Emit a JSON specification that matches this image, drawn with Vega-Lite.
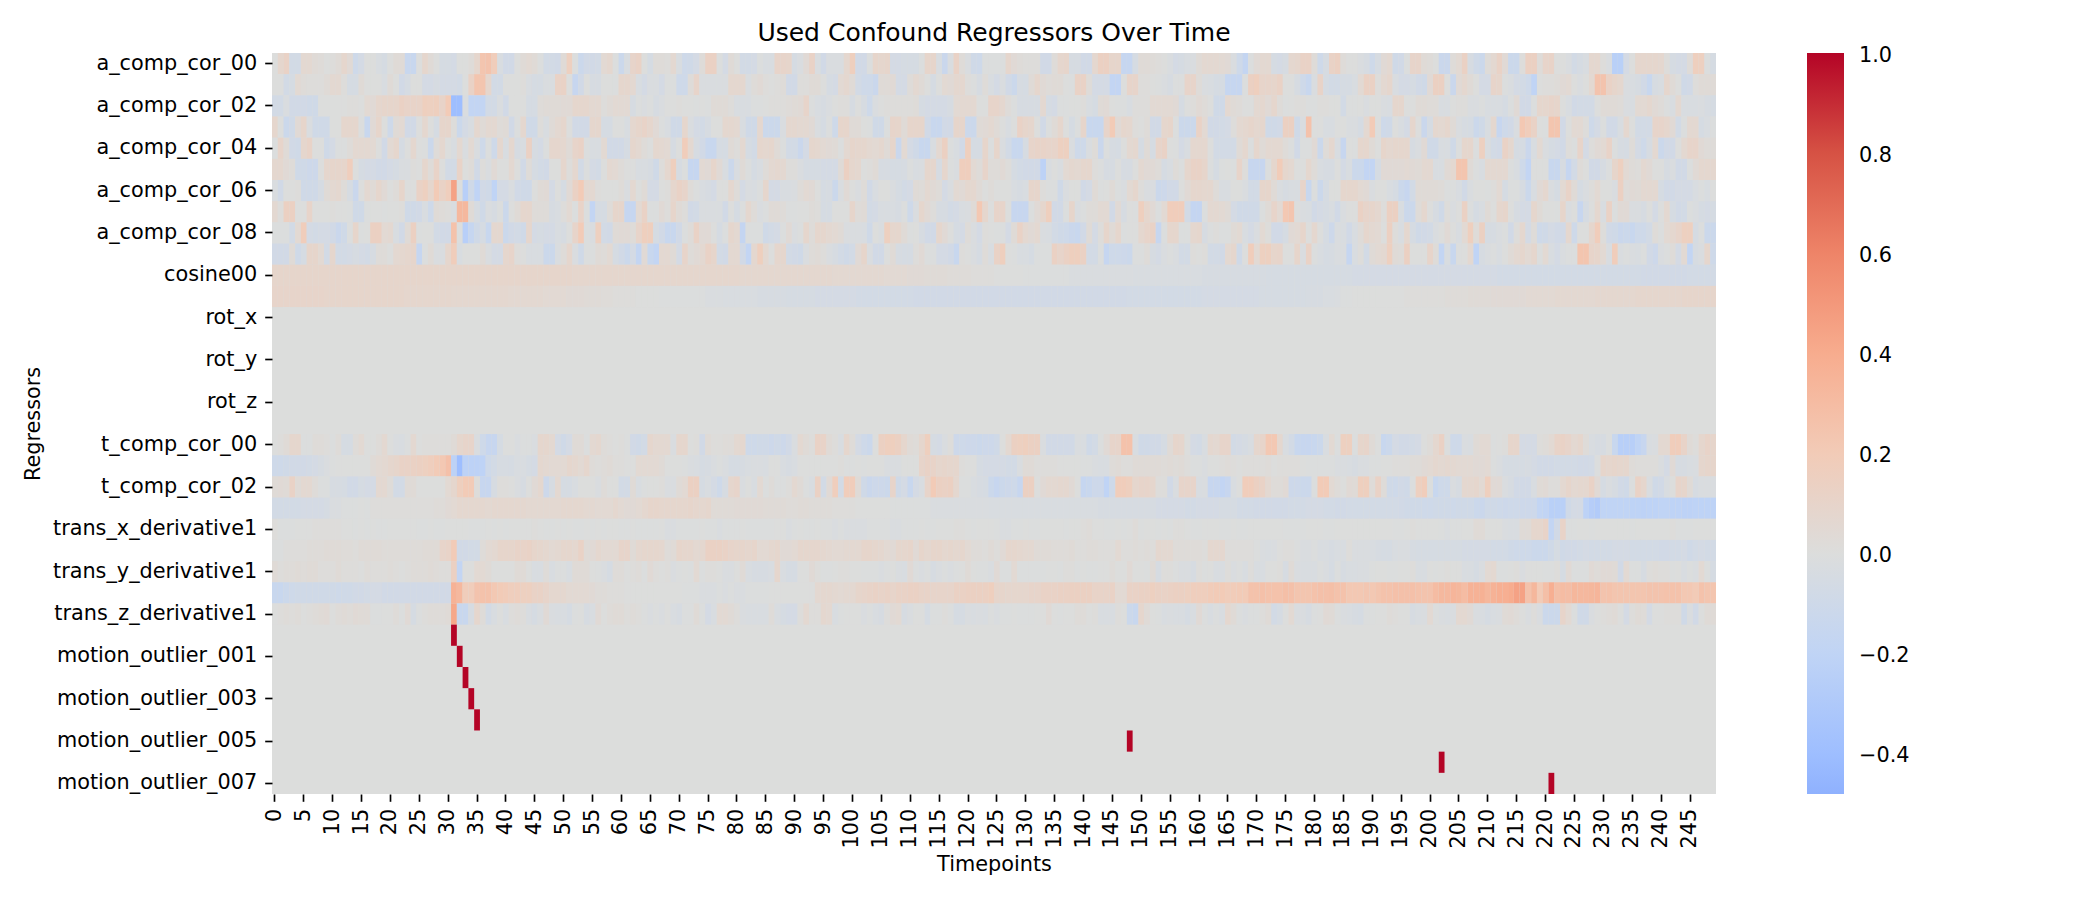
{"$schema":"https://vega.github.io/schema/vega-lite/v6.json","width":1444,"height":741,"autosize":{"type":"none"},"padding":{"left":272,"top":53,"right":384,"bottom":106},"background":"white","view":{"fill":"#dcdddc","stroke":null},"title":{"text":"Used Confound Regressors Over Time","font":"DejaVu Sans","fontSize":25,"fontWeight":"normal","color":"black","offset":6},"config":{"font":"DejaVu Sans"},"encoding":{"x":{"field":"t","type":"ordinal","title":"Timepoints","scale":{"paddingInner":0,"paddingOuter":0},"axis":{"values":[1,6,11,16,21,26,31,36,41,46,51,56,61,66,71,76,81,86,91,96,101,106,111,116,121,126,131,136,141,146,151,156,161,166,171,176,181,186,191,196,201,206,211,216,221,226,231,236,241,246],"labelExpr":"datum.value-1","labelAngle":270,"labelFontSize":20.8,"labelFont":"DejaVu Sans","labelColor":"black","labelPadding":7,"labelOverlap":false,"tickSize":7.3,"tickWidth":1.67,"tickColor":"black","domain":false,"grid":false,"titleFontSize":20.8,"titleFont":"DejaVu Sans","titleFontWeight":"normal","titleColor":"black","titlePadding":7}},"y":{"field":"r","type":"nominal","title":"Regressors","scale":{"paddingInner":0,"paddingOuter":0,"domain":["a_comp_cor_00","a_comp_cor_01","a_comp_cor_02","a_comp_cor_03","a_comp_cor_04","a_comp_cor_05","a_comp_cor_06","a_comp_cor_07","a_comp_cor_08","a_comp_cor_09","cosine00","cosine01","rot_x","rot_x_derivative1","rot_y","rot_y_derivative1","rot_z","rot_z_derivative1","t_comp_cor_00","t_comp_cor_01","t_comp_cor_02","trans_x","trans_x_derivative1","trans_y","trans_y_derivative1","trans_z","trans_z_derivative1","motion_outlier_000","motion_outlier_001","motion_outlier_002","motion_outlier_003","motion_outlier_004","motion_outlier_005","motion_outlier_006","motion_outlier_007"]},"axis":{"values":["a_comp_cor_00","a_comp_cor_02","a_comp_cor_04","a_comp_cor_06","a_comp_cor_08","cosine00","rot_x","rot_y","rot_z","t_comp_cor_00","t_comp_cor_02","trans_x_derivative1","trans_y_derivative1","trans_z_derivative1","motion_outlier_001","motion_outlier_003","motion_outlier_005","motion_outlier_007"],"labelFontSize":20.8,"labelFont":"DejaVu Sans","labelColor":"black","labelPadding":8,"labelOverlap":false,"labelLimit":400,"tickSize":7.3,"tickWidth":1.67,"tickColor":"black","domain":false,"grid":false,"titleFontSize":20.8,"titleFont":"DejaVu Sans","titleFontWeight":"normal","titleColor":"black","titlePadding":29}},"color":{"field":"v","type":"quantitative","scale":{"domain":[-48,-40,-20,0,20,40,60,80,100],"range":["#8fb1fe","#9ebeff","#c0d4f5","#dcdddc","#f2cbb7","#f7ac8e","#ee8468","#d65244","#b40426"],"interpolate":"rgb","clamp":true},"legend":{"orient":"none","legendX":1535,"legendY":0,"title":null,"gradientLength":741,"gradientThickness":37,"values":[-40,-20,0,20,40,60,80,100],"labelExpr":"replace(format(datum.value/100,'.1f'),'-','−')","labelFontSize":20.8,"labelFont":"DejaVu Sans","labelColor":"black","labelOffset":15,"encode":{"labels":{"update":{"baseline":{"value":"middle"},"dy":{"value":2.5}}}}}}},"layer":[{"data":{"name":"dense","values":[
{"r":"a_comp_cor_00","v":[0,8,12,-7,-7,6,6,3,2,0,1,3,8,4,-10,-6,0,0,-3,-5,0,3,3,-14,-14,0,8,3,0,-5,-5,-6,0,0,2,8,24,25,18,-3,-8,-8,0,3,5,3,-1,-7,-7,-8,3,15,-1,-12,-8,-8,-7,5,7,-1,-12,-3,10,
12,0,-5,2,2,1,6,-3,-10,-9,-6,2,13,13,-1,-6,3,0,-7,-7,-6,-1,-3,-3,10,10,9,-5,-2,4,12,-2,-8,-2,-2,-2,7,16,-8,-8,-1,9,8,9,-6,-6,-5,-5,-5,-1,9,9,-3,-13,-2,12,2,-2,-9,-10,-1,-1,-1,-1,
8,4,2,1,1,1,-8,-8,2,8,9,-4,-4,-8,-8,7,14,14,9,9,-16,-16,-5,3,3,2,1,0,-2,-6,-5,-3,-2,3,6,6,6,5,4,-2,-10,-17,-1,4,6,6,-5,-6,-4,7,8,12,12,2,-10,-4,12,14,2,0,0,-2,
-4,-10,-4,4,6,-9,-8,-1,10,10,3,2,0,-13,-13,2,5,13,-4,-9,-12,2,6,12,4,-12,-12,1,14,14,2,10,11,0,0,-2,-7,-5,-3,7,7,1,-2,-24,-24,-6,0,8,8,8,8,7,1,-5,-6,-6,2,16,15,-1,-5,-2,-2,-2,-2,-2,-2,-2]},
{"r":"a_comp_cor_01","v":[0,0,-7,-5,5,2,1,1,1,3,6,6,1,-5,-5,3,0,0,0,-3,3,0,-8,-5,0,0,-6,-6,-4,-6,-6,-6,-7,0,12,24,24,8,-7,-7,0,0,0,1,-3,-5,-5,-2,-2,12,12,0,-15,-8,0,-4,-4,0,0,-1,8,8,6,
-3,-6,-2,-2,-6,-1,-1,-10,-10,2,10,-2,-2,-2,-2,-2,7,7,7,-2,2,4,1,0,1,2,-8,-8,1,1,3,3,0,-5,-6,5,7,3,-7,-10,-10,-13,3,3,4,-6,-6,2,6,3,0,-5,0,5,4,7,7,1,-1,-4,2,-3,-6,
-2,-8,-12,-4,-5,3,8,4,2,3,3,0,-1,12,12,2,-6,-6,-6,-18,-18,0,10,10,1,1,0,-1,-2,-4,-1,-1,10,10,2,-2,-3,-5,-5,-16,-16,-16,-1,14,16,10,10,9,12,0,0,-4,-10,-14,-2,11,-5,-7,-7,-5,-5,
-3,5,13,13,1,6,8,-3,-6,-6,-5,-8,-9,4,14,14,0,-13,4,7,3,0,-6,-6,10,9,-1,-2,-6,-7,-10,-20,0,1,1,2,4,5,0,-2,0,6,25,25,12,9,7,-2,-3,-4,-8,-14,-4,-3,8,3,0,-9,-8,1,3,3,3,3,3,3,3]},
{"r":"a_comp_cor_02","v":[-7,-7,-2,-8,-8,-8,-9,-9,0,0,0,0,0,1,1,0,5,4,8,9,9,9,13,11,11,11,16,15,16,11,20,-40,-40,-2,-18,-18,-18,-7,-7,-2,-8,0,0,0,-5,-5,2,3,3,3,4,4,8,8,8,6,6,1,3,5,5,5,-4,
-1,-2,-1,-4,-2,0,0,1,0,0,-1,0,-1,3,3,3,1,-3,-3,-3,-1,-1,0,1,1,1,2,3,4,10,-1,-3,-4,-2,0,1,1,-4,0,-4,-10,-2,0,1,1,1,1,1,2,-5,-6,-6,-6,-6,-4,5,6,6,6,0,0,10,10,7,
2,-1,-4,-4,-4,-4,6,-5,-6,-1,-1,0,0,1,-3,-5,3,4,0,-1,-1,-3,1,1,1,5,5,5,5,4,-5,0,1,4,2,0,-9,-9,6,3,2,0,0,6,7,4,8,2,-1,0,1,1,-1,-1,1,1,0,0,-7,-1,-1,0,-2,
0,0,-2,-3,8,8,0,0,3,3,2,2,-3,-3,0,1,1,-2,-2,-1,-3,-3,-3,-5,-1,4,-8,-8,-1,8,8,10,9,0,-3,-8,-7,-7,-7,0,3,3,3,2,-2,-3,5,5,7,4,2,-1,-3,6,-3,-3,-3,-2,-4,-5,-4,-2,-2,-2,-2,-2,-2,-2]},
{"r":"a_comp_cor_03","v":[8,0,-12,-9,4,9,-2,-9,-9,-9,0,0,8,8,8,-1,-14,4,9,0,-10,3,5,-8,-8,0,7,0,-5,9,9,1,-12,-6,-3,7,3,6,6,2,3,-8,-1,7,-9,-9,1,-3,3,6,8,0,-8,-8,-8,8,8,-5,-5,0,0,-3,7,
9,11,8,4,-1,-3,-9,-9,8,-2,-6,-7,-4,0,0,7,7,6,-3,-9,-9,7,-12,-12,-12,-2,7,7,6,6,4,-2,-5,-1,-10,9,9,3,3,0,-1,-9,-9,-1,10,9,3,9,9,9,-8,-14,-14,-8,-8,9,9,-12,-12,3,4,6,3,0,
-3,0,12,9,8,0,-8,-1,3,8,0,-5,-1,9,-14,-14,-14,10,20,4,8,7,1,0,2,-8,-8,8,9,-1,-12,-12,-12,12,5,-8,-8,-7,-6,1,6,7,9,7,8,-9,-9,-8,14,14,-9,-2,26,0,0,-3,-3,0,0,-2,-2,
-5,6,20,0,-10,-9,0,-3,-6,8,0,-13,-5,7,6,8,3,-2,-4,-5,-12,-9,-3,7,-15,-10,-8,-2,22,18,12,0,-1,24,24,-8,0,5,5,1,-10,-6,-1,-8,-8,-3,7,0,-7,-7,-7,10,10,8,4,-7,-1,6,6,-5,-3,-1,-1,-1,-1,-1,-1,-1]},
{"r":"a_comp_cor_04","v":[-1,10,3,-8,-9,8,11,0,0,-9,-6,-1,-1,2,6,6,6,5,0,-8,5,8,-5,0,7,0,-1,-12,2,7,0,-3,6,-2,5,-2,-10,-1,-10,7,-3,7,-4,-3,13,-4,-6,-1,8,8,7,3,10,12,-1,-3,-3,5,-8,-8,-8,-5,8,
6,2,0,7,6,5,-4,0,18,6,-4,-8,-14,-14,-5,-5,3,1,6,-5,-7,8,7,8,3,-1,-7,-7,-13,-6,8,7,5,4,3,-1,6,9,8,8,6,5,7,3,9,-13,5,-6,-9,-14,-14,-3,6,14,-1,-3,-8,16,-5,-5,9,
-1,9,-2,-7,-14,-14,-4,10,11,11,10,10,15,15,-2,-10,-10,-2,2,-13,-1,-4,-5,0,6,7,-5,3,-5,10,12,0,-1,-6,-3,7,7,7,0,-7,-7,-7,-7,3,7,-1,8,3,6,6,6,2,-1,-8,-1,-1,4,-12,2,7,-3,-15,0,
-1,8,8,3,0,9,7,8,8,8,-4,-2,4,-9,-9,-3,-3,-9,-1,8,8,-1,15,-2,-7,-8,12,7,-5,-5,-13,-3,5,-2,-5,-6,-8,1,-1,10,-6,1,4,5,11,-1,-4,-5,2,-6,-10,-4,6,-12,-8,-8,0,6,10,10,4,2,2,2,2,2,2,2]},
{"r":"a_comp_cor_05","v":[7,7,4,2,-9,-9,-11,-11,0,8,9,9,9,17,0,-5,-6,-6,-8,-8,-6,-5,-2,-2,1,0,8,2,11,0,-7,-7,11,0,2,-8,1,-2,4,0,0,6,0,-8,2,-5,-7,-8,0,0,8,1,7,-7,-1,-6,-7,0,6,5,2,0,0,
-3,-3,-4,-9,1,7,16,-4,-1,-16,-16,5,4,9,4,-3,-12,-3,3,-1,-5,-3,2,6,7,6,1,1,-2,-5,-5,-5,-6,-6,-6,3,14,8,7,0,1,3,-4,-4,-5,-5,-4,-1,-3,-2,8,8,-4,8,-1,-2,17,17,5,2,10,2,2,
4,1,-5,-7,-8,-8,-8,-22,-3,0,-2,5,7,6,8,8,1,-1,-4,-4,0,-4,-4,0,6,4,4,2,-5,-3,2,-1,8,12,12,9,-1,-5,-1,0,-1,10,1,-15,-15,-15,-1,8,19,8,6,0,0,7,2,-3,-4,-4,0,-6,-3,-12,-12,
-18,-18,-5,4,4,4,4,5,4,3,6,6,-3,-3,4,6,24,24,3,-1,-3,6,6,6,6,-1,-3,-10,-18,0,0,0,-14,-14,-4,-16,-7,2,0,-8,-8,-4,-1,9,15,5,2,1,6,4,0,0,-4,-2,-8,-8,-1,4,7,7,7,6,6,6,6,6,6,6]},
{"r":"a_comp_cor_06","v":[-2,-8,0,0,1,-9,-9,-9,-5,3,6,7,2,-4,-13,0,6,3,8,4,0,2,9,0,0,12,15,8,20,12,17,45,0,-25,-9,-20,-8,-9,-20,-6,-6,-2,-8,-9,-9,0,3,4,-6,0,-5,4,13,20,6,6,1,0,0,0,2,-2,6,
0,3,-6,-6,0,1,8,12,10,2,-1,-3,-4,-6,0,0,7,2,-6,-2,-3,-1,8,-6,-6,-3,-3,-2,2,5,4,0,-5,-4,-12,-2,4,0,-2,2,-8,-3,0,0,-2,-5,-7,-6,3,2,6,4,2,-6,-2,5,4,7,7,3,0,2,0,0,
0,-3,-4,-3,9,9,1,-1,-1,-9,-2,0,0,-8,-6,3,-1,0,3,-1,-2,5,8,1,-2,-2,-12,-11,-8,-8,0,4,8,8,7,7,2,-3,-3,0,0,-2,-7,-7,9,9,3,-2,-4,-3,-3,10,-14,-1,-12,-5,0,0,8,8,8,5,4,
-2,0,0,-3,-5,-12,-15,-7,3,3,3,3,2,-1,-1,-3,-8,-2,0,0,-1,1,5,-5,-1,-1,-4,-12,-3,4,7,-2,-5,5,11,3,-5,-2,1,5,0,0,-2,14,2,4,3,6,6,6,-5,-8,-8,-6,-6,-6,-3,-1,-3,0,-2,-10,-10,-10,-10,-10,-10,-10]},
{"r":"a_comp_cor_07","v":[6,1,14,14,0,0,10,0,0,0,1,0,0,-1,-9,-9,-1,0,0,-1,0,0,1,-9,-9,-8,-3,-10,3,2,1,-2,32,32,3,-4,-9,-2,-4,-1,-12,0,3,8,8,2,2,2,-4,-3,1,5,-1,11,-1,-18,-5,-5,2,9,9,-16,-16,
5,12,-1,-1,4,1,9,3,1,-8,-7,-2,-2,-2,-2,-8,0,-5,-1,7,2,-2,-1,3,3,2,-1,-1,0,0,2,1,-5,-5,0,0,0,9,2,3,-7,-6,-3,-3,-3,-4,-1,-10,-2,8,4,1,-4,-4,-7,-6,-3,-2,3,22,8,0,10,10,
0,-15,-15,-15,-1,4,8,16,-8,-8,-1,9,-2,-1,2,2,5,5,-8,4,-4,0,-1,16,8,4,-1,5,18,18,18,-7,-17,-17,-1,6,6,5,3,-6,-9,-9,-9,-9,-1,3,10,5,22,24,0,-2,-3,-8,-6,-5,-3,-8,-2,0,0,13,
10,9,7,1,14,14,-3,-12,-12,2,7,0,-4,-9,1,-2,0,13,-1,-5,-3,3,0,8,9,0,-4,-6,-6,8,3,0,0,-1,9,-2,0,-15,-5,0,7,-3,12,-1,4,4,-2,-2,-4,0,-6,0,6,-5,-8,-7,-1,-2,-5,-6,-5,-5,-5,-5,-5,-5,-5,-5]},
{"r":"a_comp_cor_08","v":[-1,-1,-1,-7,5,18,-6,-7,-6,-6,-8,-13,-9,-1,9,-1,0,14,14,5,6,-3,-8,3,14,-1,0,0,-7,-8,-8,26,-1,-25,-16,-9,-5,-14,7,7,-12,-8,-7,-9,8,-6,-5,-6,-6,-3,-4,0,10,20,-1,-2,15,-7,-8,3,4,4,2,
10,16,16,-5,-8,-14,-14,-8,-1,2,12,4,4,0,-5,-1,8,6,-17,-1,-1,-1,-9,-7,-6,-1,4,-2,-1,8,2,8,8,6,5,3,-2,-2,-2,-3,-9,0,-2,15,8,8,3,-1,0,-4,-8,-8,8,4,0,-5,-6,2,-2,-6,1,0,-1,-1,
-6,3,12,6,4,6,-2,-3,-7,-9,-10,-13,-14,-8,3,-6,1,9,3,8,-1,0,0,7,10,12,-15,-1,8,8,-1,-1,7,8,-4,-1,1,-1,-1,3,5,-3,-6,-2,5,1,-8,-8,-5,4,5,9,0,7,0,-5,-11,-2,-3,-8,-3,2,8,
6,5,0,14,1,-3,7,-5,-9,-8,-7,-2,0,4,0,-3,5,16,2,14,-5,-4,-2,-1,-8,1,7,-6,2,-10,-9,-6,-8,-8,7,-10,0,0,8,18,1,-8,-9,-13,-12,-14,-10,-10,-7,2,-1,5,7,10,15,15,-5,-1,-12,-12,-3,-8,-8,-8,-8,-8,-8,-8]},
{"r":"a_comp_cor_09","v":[-8,-8,-8,3,-9,-5,9,9,5,-7,8,-7,-7,-6,-4,-6,-7,-4,2,2,0,6,7,8,9,-16,-1,3,-2,-2,8,18,-3,0,0,0,3,-2,-6,-6,8,10,1,0,-3,-3,-3,-12,-12,-2,2,8,-2,-9,-1,-1,3,2,5,-5,-8,-12,-6,
-17,4,-14,-18,6,6,3,-6,10,2,4,6,12,9,-7,-8,6,6,-8,-18,7,16,6,0,8,8,-7,-8,-9,-2,2,3,1,-2,-4,-7,-9,-7,4,9,-2,-8,-8,0,3,-4,-5,-5,1,4,-1,-1,-6,-6,-8,-14,1,0,-2,-5,2,-3,
12,16,0,-1,-3,-3,-5,-1,-1,-1,13,10,13,16,16,13,-7,-7,-1,-16,-10,-10,-11,-12,-1,-1,2,-4,-6,-2,-1,-2,-7,-7,1,0,1,-7,-7,-8,6,8,-9,0,18,5,15,15,9,10,0,0,9,-2,12,-1,-3,-5,-4,-2,-2,-16,-3,
1,-7,3,5,6,15,3,2,14,0,0,0,10,2,-18,-3,-14,-1,0,6,-20,-4,-2,-1,-3,0,3,6,8,5,8,-1,5,-3,-6,-2,-1,-1,24,24,10,9,5,-3,18,-2,-1,-2,-3,-1,-8,-11,-2,-1,2,-6,5,-18,-4,-2,8,-10,-10,-10,-10,-10,-10,-10]},
{"r":"cosine00","v":[9,9,9,9,9,9,9,9,9,9,9,9,9,9,9,9,9,9,9,9,9,9,9,9,9,9,9,9,9,9,9,9,9,9,9,9,9,9,9,9,9,9,9,9,9,9,9,9,9,9,9,9,8,8,8,8,8,8,8,8,8,8,8,
8,8,8,8,8,8,8,8,8,8,8,8,8,8,8,8,8,8,7,7,7,7,7,7,7,7,7,7,7,7,7,7,7,7,6,6,6,6,6,6,6,6,6,5,5,5,5,4,4,4,3,3,3,3,2,2,2,2,1,1,1,1,
0,0,0,0,0,-1,-1,-1,-1,-1,-1,-1,-1,-2,-2,-2,-2,-2,-2,-2,-2,-2,-2,-2,-3,-3,-3,-3,-3,-3,-3,-3,-3,-3,-3,-3,-4,-4,-4,-4,-4,-4,-4,-4,-4,-4,-4,-5,-5,-5,-5,-5,-5,-5,-5,-5,-5,-5,-5,-5,-5,-5,-6,
-6,-6,-6,-6,-6,-6,-6,-6,-6,-6,-6,-6,-6,-6,-6,-6,-6,-6,-6,-6,-6,-6,-6,-6,-7,-7,-7,-7,-7,-7,-7,-7,-7,-7,-7,-7,-7,-7,-7,-7,-7,-7,-7,-7,-7,-7,-7,-7,-7,-8,-8,-8,-8,-8,-8,-8,-8,-7,-7,-7,-7,-7,-7,-7,-7,-7,-7,-7]},
{"r":"cosine01","v":[10,10,10,10,10,10,10,10,10,9,9,9,9,9,9,9,9,9,9,9,9,9,9,8,8,8,8,8,8,8,8,7,7,7,7,7,7,7,7,7,7,6,6,6,6,6,6,5,5,5,5,4,4,4,3,3,3,2,2,1,1,1,1,
0,0,0,0,-1,-1,-1,-1,-1,-1,-1,-1,-2,-2,-2,-3,-3,-3,-3,-3,-3,-4,-4,-4,-4,-4,-5,-5,-5,-5,-5,-6,-6,-6,-6,-6,-6,-6,-7,-7,-7,-7,-7,-7,-7,-7,-7,-7,-8,-8,-8,-8,-8,-8,-8,-8,-8,-8,-8,-8,-8,-8,
-8,-8,-8,-8,-8,-8,-8,-8,-8,-8,-8,-8,-8,-8,-8,-8,-8,-8,-8,-8,-8,-8,-8,-7,-7,-7,-7,-7,-7,-7,-7,-7,-7,-7,-7,-7,-6,-6,-6,-6,-6,-6,-6,-6,-6,-6,-5,-5,-5,-5,-5,-5,-5,-5,-4,-4,-4,-3,-3,-2,-1,-1,0,0,
0,0,0,0,0,0,0,1,1,1,1,1,1,1,2,2,2,2,3,3,3,3,4,4,4,4,4,4,5,5,5,5,5,6,6,6,6,6,6,6,7,7,7,7,7,7,7,8,8,8,8,8,8,8,8,9,9,9,9,9,9,10,10,10,10,10,10,10]},
{"r":"t_comp_cor_00","v":[0,1,3,8,8,-1,-1,2,2,1,-1,2,-5,-5,2,5,0,0,2,6,0,-2,-3,-1,6,0,1,1,1,1,1,3,8,10,10,-2,-10,-15,-15,-5,0,0,-2,-1,-1,-2,8,8,6,-6,-9,-6,3,3,-1,6,7,2,1,0,1,-1,-8,
-9,-7,8,6,6,6,-2,8,8,0,1,-8,3,1,1,2,2,6,7,-10,-10,-9,-9,-11,-9,-11,-8,-2,6,3,1,12,11,3,1,-3,8,2,-6,-10,-12,0,14,16,16,14,8,3,2,8,16,-5,-6,-2,1,-11,-10,-11,-11,-12,-11,-11,-9,
0,6,14,15,16,14,14,-2,-8,-8,-8,-8,-8,-2,-3,-9,-7,-1,4,10,10,26,26,-3,-9,-9,-8,-8,-5,3,9,8,0,-6,-7,-3,7,6,10,10,-7,-6,-5,-3,8,10,22,22,7,-3,-7,-14,-15,-15,-14,-12,-3,5,-1,15,15,-1,9,
10,3,0,-14,-12,-6,-8,-8,-7,-6,0,2,7,13,-1,-10,-10,-2,-3,3,5,5,-1,0,1,9,9,-6,-6,-6,1,2,5,11,12,10,6,8,2,-3,-4,-4,-1,-14,-25,-25,-25,-20,-15,-3,-2,6,6,18,18,11,3,1,8,11,9,5,5,5,5,5,5,5]},
{"r":"t_comp_cor_01","v":[-10,-10,-9,-8,-8,-8,-7,-6,-4,-2,-1,0,0,0,0,0,0,3,5,6,8,9,12,12,13,14,15,17,20,22,27,-22,-40,-22,-22,-22,-21,-10,-7,-4,-4,-5,-3,-3,-5,-6,7,6,5,5,5,8,7,5,8,2,1,2,3,1,1,0,0,
5,5,5,5,3,0,0,0,-1,-2,-3,-5,-4,-2,-1,-2,-5,-5,-4,-3,-2,-2,-3,0,0,-3,-4,-3,0,0,0,0,0,0,0,1,-1,-1,0,-1,0,0,0,-2,-2,-2,0,0,0,10,12,11,8,9,8,8,1,0,0,-5,-6,-6,-6,-6,
-7,-7,-2,3,3,1,1,1,1,0,0,0,0,-1,-1,-2,-3,-3,2,3,1,1,3,3,3,3,3,2,3,2,3,1,-1,-1,-2,0,0,1,2,1,0,1,1,1,1,2,0,1,1,1,1,0,-1,-1,-1,-1,-1,-2,-2,-3,-4,
-2,-2,-1,-1,0,0,1,1,1,2,2,4,5,7,6,7,6,5,5,5,4,4,5,-1,-2,-5,-5,-5,-5,-4,-6,-8,-8,-8,-7,-7,-7,-7,-8,-8,-7,-1,9,8,9,8,8,2,1,1,1,1,-2,-6,4,-4,-4,-3,-2,8,9,9,9,9,9,9,9,9]},
{"r":"t_comp_cor_02","v":[3,4,3,12,3,6,6,2,-1,-1,-4,-4,-5,-8,-8,-5,-6,-6,6,6,2,-7,-7,3,3,0,0,0,0,0,5,8,16,20,20,1,-15,-15,-4,1,1,0,-2,-4,0,4,7,-11,-4,6,-5,-5,-3,0,0,0,-2,2,0,0,-7,-7,3,
-3,-1,0,0,1,-2,-2,3,5,14,14,-5,-3,-6,-10,-4,8,10,-2,0,-3,5,-1,2,-1,-1,1,6,3,-1,-3,13,-7,4,17,-7,18,18,3,-9,-13,-11,-11,-12,10,-9,-6,-14,-6,-3,10,20,14,13,14,7,-1,-1,-3,-4,-5,
-12,-15,-12,-11,-10,-15,14,14,0,4,6,6,7,7,4,0,-16,-14,-11,-11,-20,-10,18,18,16,8,10,10,8,1,1,-8,-2,10,10,10,-3,-2,-15,-15,-18,-15,-3,0,18,18,14,12,6,2,2,4,-11,-11,-12,-12,-1,20,20,5,2,0,4,
3,16,16,2,12,2,-9,-10,-8,-9,-1,15,18,-1,-14,-10,-10,-2,-4,7,7,8,5,16,4,4,-2,-4,-8,-8,-8,-3,3,4,1,1,6,9,6,7,7,12,4,-5,-2,-4,-8,-9,-1,12,8,-2,-9,-8,-3,0,10,9,3,-4,-2,-2,-2,-2,-2,-2,-2,-2]},
{"r":"trans_x","v":[-7,-7,-7,-7,-7,-6,-6,-6,-6,-5,-2,-2,-1,-1,-1,0,-1,1,1,1,1,1,1,1,1,1,1,1,2,2,4,5,7,7,7,7,7,6,7,7,7,7,7,7,6,6,6,6,6,6,7,7,7,7,6,6,5,5,5,7,5,4,4,
5,7,9,9,8,8,8,8,8,9,8,7,8,3,3,3,3,4,4,4,4,4,3,3,3,3,2,2,3,3,2,2,2,2,1,1,1,1,0,0,0,0,0,0,-1,-1,-1,-1,-1,-1,-1,-2,-2,-2,-2,-2,-2,-2,-2,-2,-2,-3,
-3,-3,-3,-3,-3,-3,-3,-3,-3,-3,-3,-3,-3,-3,-3,-3,-3,-3,-4,-4,-4,-4,-4,-4,-4,-4,-4,-4,-6,-6,-6,-6,-6,-7,-7,-6,-6,-6,-6,-5,-5,-5,-7,-7,-7,-8,-8,-8,-8,-8,-8,-7,-7,-7,-6,-6,-6,-7,-7,-8,-8,
-7,-7,-7,-7,-7,-7,-7,-7,-7,-8,-9,-9,-9,-10,-10,-9,-9,-9,-10,-9,-9,-9,-12,-13,-9,-9,-10,-11,-10,-10,-11,-11,-11,-18,-19,-24,-24,-24,-9,-6,-6,-22,-26,-28,-20,-20,-20,-20,-20,-21,-21,-22,-21,-21,-20,-20,-21,-21,-22,-22,-21,-21,-21,-21,-21,-21,-21,-21]},
{"r":"trans_x_derivative1","v":[1,-1,-1,-1,0,0,0,1,1,1,1,1,0,0,-1,0,-1,0,-1,-1,0,0,0,0,0,-1,-1,0,-1,-1,0,0,0,0,-1,-1,-1,0,-1,0,-1,0,0,0,0,1,0,-1,-1,0,-1,0,-1,-1,0,-1,0,-1,0,0,-1,-1,0,
-1,-1,-1,-1,0,-2,-2,-1,-1,-1,-1,0,-1,-1,-2,-1,-1,-1,0,-1,-1,-1,-1,-1,0,0,-2,-1,0,-1,-1,0,-1,-1,-2,-1,-2,-2,-2,-2,-1,-1,-1,-1,-2,-2,-1,-1,-1,0,-1,-1,0,0,0,1,1,0,-1,0,0,
0,-1,-2,-2,-1,-1,0,-1,-1,0,0,0,0,-1,0,0,1,2,0,0,-1,-1,0,-1,0,2,-1,0,0,-1,0,-1,1,1,0,-1,-1,0,0,0,-1,-1,0,-1,-1,0,0,0,0,0,0,-1,-1,-1,-1,0,0,0,-1,-1,0,0,0,
0,0,0,0,0,0,0,-1,-1,0,1,0,0,0,0,-1,-2,-1,-1,0,0,3,3,0,0,0,-2,-3,-3,3,3,8,8,11,-18,-8,11,-1,-1,0,0,-1,0,0,0,0,0,0,-1,0,0,0,0,0,0,1,-1,-1,-1,0,0,0,0,0,0,0,0]},
{"r":"trans_y","v":[-1,-1,1,1,1,1,2,2,2,3,3,3,2,2,1,3,3,3,3,2,2,2,2,2,2,2,3,3,3,10,11,20,-8,-8,-7,-7,2,5,6,9,9,9,11,11,12,9,8,7,5,6,8,8,7,12,3,4,7,5,5,5,10,10,3,
7,8,8,8,7,2,3,9,8,8,6,7,13,13,13,12,10,9,9,8,9,5,5,7,8,4,4,5,8,8,8,8,7,6,5,5,6,6,6,9,9,8,7,5,4,8,8,9,4,9,7,9,9,7,8,7,8,5,2,2,1,3,
1,4,8,8,7,6,6,3,3,3,2,2,2,3,1,1,2,2,1,1,1,5,1,1,2,1,2,1,7,6,6,2,2,2,2,2,1,7,7,7,1,1,1,1,1,-1,-2,-3,-2,0,1,1,-1,-2,-2,-1,-3,-3,-4,-3,-3,1,
-2,-2,-2,-3,-4,-5,-5,-3,-2,-2,-4,-5,-5,-5,-5,-5,-5,-5,-5,-6,-6,-6,-6,-6,-7,-7,-7,-9,-10,-10,-10,-12,-12,-12,-9,-5,-9,-8,-8,-7,-6,-7,-7,-7,-7,-6,-6,-6,-7,-7,-7,-7,-7,-8,-8,-7,-7,-6,-9,-7,-6,-7,-7,-7,-7,-7,-7,-7]},
{"r":"trans_y_derivative1","v":[3,1,2,2,3,2,3,3,1,1,1,3,1,1,1,0,2,1,1,1,2,1,0,1,2,2,2,3,2,1,1,14,-18,0,0,5,5,3,0,0,0,0,3,3,0,-3,-3,2,-3,-1,-1,-3,3,3,3,0,-1,-2,-5,2,2,0,1,
2,-1,4,1,0,1,-2,-1,0,-1,5,-1,1,1,0,-2,-2,0,3,-3,-4,-4,-4,-3,8,-3,-5,-5,0,0,4,1,-1,-1,0,1,1,0,0,-1,-1,-1,-2,-1,0,-2,-3,4,-1,-2,-1,-4,-2,-1,-2,-1,0,3,0,-1,-1,-2,4,-1,
-1,5,-1,-1,-1,-1,-1,0,0,-1,1,1,-1,0,-1,-1,0,0,2,0,0,4,0,0,-1,3,-4,1,1,-1,-2,-2,-4,1,-1,0,-3,-3,1,-2,-1,-3,1,-3,-3,0,0,1,-4,3,-2,-3,-3,-3,-1,-2,-5,-1,-4,-3,-3,-2,-2,
-1,0,0,-1,-1,0,0,1,-3,-3,0,-1,0,1,0,0,-3,-3,-5,-2,5,6,-1,-1,0,1,-2,0,0,0,-1,-1,1,-5,4,-1,-1,-1,4,2,4,4,3,-8,5,-1,-1,-4,1,2,1,1,-1,0,-3,-1,-2,5,-1,-5,1,1,1,1,1,1,1,1]},
{"r":"trans_z","v":[-14,-14,-12,-10,-9,-9,-9,-9,-9,-9,-9,-10,-9,-9,-8,-8,-7,-6,-6,-8,-8,-8,-8,-8,-8,-8,-8,-8,-8,-8,-8,36,32,18,18,25,26,26,22,20,19,17,17,15,15,12,12,10,7,7,7,5,5,5,5,4,2,2,1,1,1,0,0,
0,0,0,0,0,0,0,0,-1,-1,-1,-2,-2,-2,-1,-2,-1,-2,-2,-1,-1,-1,-1,0,0,0,0,0,0,0,0,6,7,7,6,5,6,6,9,10,11,12,11,12,10,12,12,13,13,11,11,10,10,10,10,13,13,14,14,14,14,16,
9,9,8,8,8,8,10,10,12,12,12,13,13,14,14,14,14,11,11,11,12,5,5,12,12,13,13,15,13,12,13,14,14,15,17,17,17,19,20,20,18,19,20,20,26,26,27,26,26,26,28,27,24,24,24,26,27,27,28,26,26,
22,22,22,23,22,24,26,26,27,27,27,27,26,25,25,30,32,32,34,33,30,36,36,37,33,36,38,38,40,45,45,26,33,20,28,38,28,30,29,33,32,32,33,34,25,26,24,24,24,24,24,24,25,25,25,26,26,26,22,22,20,26,24,24,24,24,24,24]},
{"r":"trans_z_derivative1","v":[0,1,2,1,2,0,1,2,3,4,0,2,3,2,4,3,3,-1,-1,0,0,2,-1,4,-5,-1,1,2,2,2,3,42,-14,-14,-4,8,2,-7,-3,0,-3,1,2,1,-3,-5,-2,4,-2,-3,-3,-5,-1,0,-4,-3,4,0,2,3,3,1,2,
1,-1,-2,-1,-2,0,-3,-4,-1,-1,3,-1,-6,-3,5,5,3,1,-2,-3,-3,-3,-3,2,-3,-5,-6,-6,1,6,1,1,7,6,-3,-1,0,0,0,-2,-1,-3,-4,1,4,5,-4,-2,0,0,-5,-1,-1,1,-1,-5,-5,-2,-3,-2,-3,-1,-2,-1,
-1,0,-1,-1,-1,0,0,4,0,-1,0,0,2,2,0,1,-3,-3,-3,1,0,-12,-14,8,3,0,-1,-3,-2,-3,-3,-5,-3,4,-1,-3,-1,-3,7,3,-1,-2,-1,-1,1,3,-7,-5,0,5,-2,-2,-4,-1,0,4,3,-1,-2,-3,-4,-5,-1,-1,
0,0,2,1,0,0,-4,-3,-2,5,-1,-2,-3,-2,6,6,4,-2,-3,-5,-3,-2,3,4,2,0,-2,1,-2,-12,-12,-12,10,5,-1,-9,-9,-2,0,1,2,3,0,-6,1,3,2,-6,0,0,1,1,1,-9,-2,-8,0,3,3,1,-12,-8,-8,-8,-8,-8,-8,-8]}
]},"transform":[{"flatten":["v"]},{"window":[{"op":"row_number","as":"t"}],"groupby":["r"]},{"filter":{"field":"t","lte":250}}],"mark":{"type":"rect"}},
{"data":{"name":"outliers","values":[{"r":"motion_outlier_000","t":32,"v":100},{"r":"motion_outlier_001","t":33,"v":100},{"r":"motion_outlier_002","t":34,"v":100},{"r":"motion_outlier_003","t":35,"v":100},{"r":"motion_outlier_004","t":36,"v":100},{"r":"motion_outlier_005","t":149,"v":100},{"r":"motion_outlier_006","t":203,"v":100},{"r":"motion_outlier_007","t":222,"v":100}]},"mark":{"type":"rect"}}]}
